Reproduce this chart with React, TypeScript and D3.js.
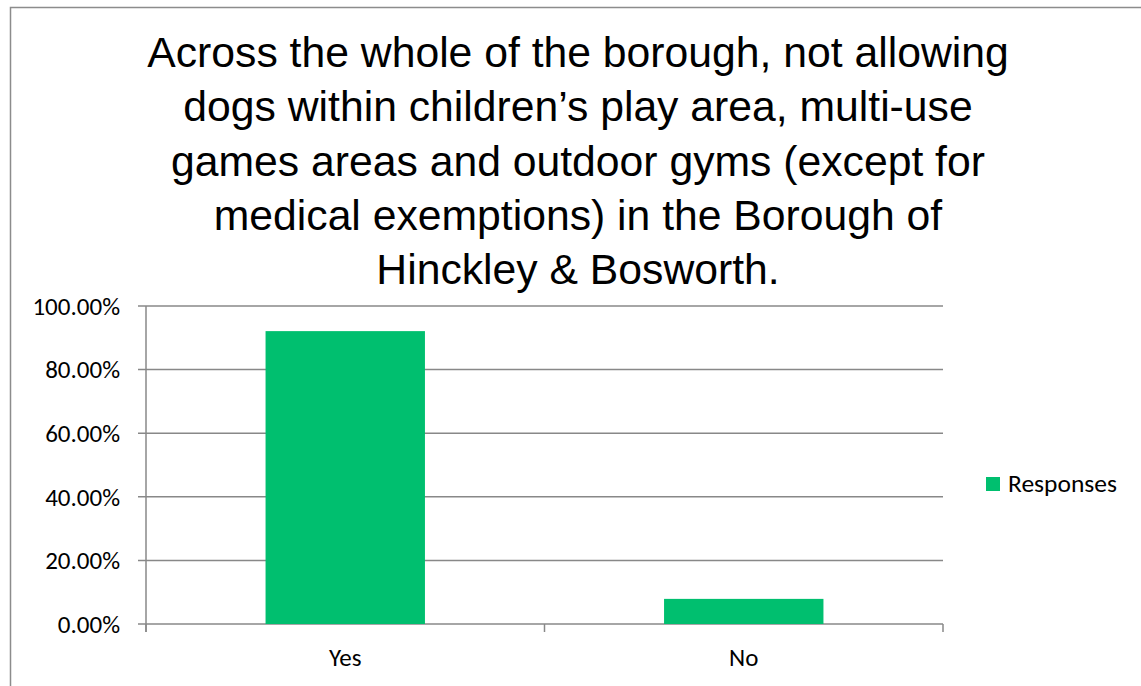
import React from "react";
import * as d3 from "d3";

const titleLines = [
  "Across the whole of the borough, not allowing",
  "dogs within children’s play area, multi-use",
  "games areas and outdoor gyms (except for",
  "medical exemptions) in the Borough of",
  "Hinckley & Bosworth.",
];
const categories = ["Yes", "No"];
const responses = [92.1, 7.9];
const yTicks = [0, 20, 40, 60, 80, 100];
const seriesName = "Responses";

const W = 1141;
const H = 686;
const plot = { left: 146, right: 943, top: 306, bottom: 624 };
const green = "#00BF6F";
const axisColor = "#888888";
const labelFont = "Carlito, Calibri, Lato, sans-serif";

export default function App() {
  const x = d3
    .scaleBand<string>()
    .domain(categories)
    .range([plot.left, plot.right])
    .paddingInner(0.6)
    .paddingOuter(0.3);
  const y = d3.scaleLinear().domain([0, 100]).range([plot.bottom, plot.top]);
  const catEdges = categories.map((_, i) => plot.left + (plot.right - plot.left) * (i / categories.length));
  catEdges.push(plot.right);

  return (
    <svg
      width={W}
      height={H}
      style={{ position: "absolute", left: 0, top: 0 }}
    >
      <rect x={0} y={0} width={W} height={H} fill="#fff" />
      <rect x={10.5} y={7.5} width={W + 20} height={H + 20} fill="none" stroke="#8c8c8c" strokeWidth={1.5} />
      <g fontFamily="'Liberation Sans', Arial, sans-serif" fontSize={42.7} fill="#000" textAnchor="middle">
        {titleLines.map((t, i) => (
          <text key={i} x={578} y={67 + i * 54.3}>
            {t}
          </text>
        ))}
      </g>
      {yTicks.map((t) => (
        <g key={t}>
          <line x1={plot.left - 8} x2={plot.right} y1={y(t)} y2={y(t)} stroke={axisColor} strokeWidth={1.5} />
          <text
            x={120}
            y={y(t)}
            dy="0.35em"
            textAnchor="end"
            fontFamily={labelFont}
            fontSize={25}
            fill="#000"
          >
            {t.toFixed(2)}%
          </text>
        </g>
      ))}
      <line x1={plot.left} x2={plot.left} y1={plot.top} y2={plot.bottom + 8} stroke={axisColor} strokeWidth={1.5} />
      {catEdges.map((cx, i) => (
        <line key={i} x1={cx} x2={cx} y1={plot.bottom} y2={plot.bottom + 8} stroke={axisColor} strokeWidth={1.5} />
      ))}
      {categories.map((c, i) => (
        <rect
          key={c}
          x={x(c)}
          y={y(responses[i])}
          width={x.bandwidth()}
          height={y(0) - y(responses[i])}
          fill={green}
        />
      ))}
      {categories.map((c) => (
        <text
          key={c}
          x={(x(c) as number) + x.bandwidth() / 2}
          y={666}
          textAnchor="middle"
          fontFamily={labelFont}
          fontSize={25}
          fill="#000"
        >
          {c}
        </text>
      ))}
      <rect x={986} y={477} width={14} height={14} fill={green} />
      <text x={1008} y={492} fontFamily={labelFont} fontSize={25.5} fill="#000">
        {seriesName}
      </text>
    </svg>
  );
}
